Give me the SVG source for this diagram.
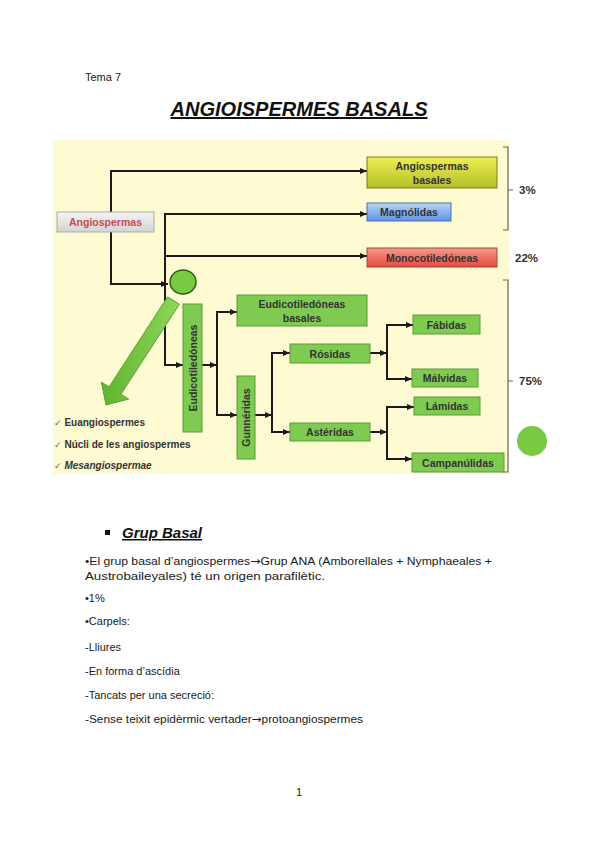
<svg xmlns="http://www.w3.org/2000/svg" width="599" height="848" viewBox="0 0 599 848">
<defs>
<linearGradient id="gGray" x1="0" y1="0" x2="0" y2="1"><stop offset="0" stop-color="#f4f4f4"/><stop offset="1" stop-color="#d4d4d4"/></linearGradient>
<linearGradient id="gYel" x1="0" y1="0" x2="0" y2="1"><stop offset="0" stop-color="#eeee50"/><stop offset="1" stop-color="#b4c02c"/></linearGradient>
<linearGradient id="gBlue" x1="0" y1="0" x2="0" y2="1"><stop offset="0" stop-color="#b8d4f8"/><stop offset="1" stop-color="#5f93e6"/></linearGradient>
<linearGradient id="gRed" x1="0" y1="0" x2="0" y2="1"><stop offset="0" stop-color="#f59a88"/><stop offset="1" stop-color="#e44a42"/></linearGradient>
<linearGradient id="gArrow" x1="0" y1="0" x2="1" y2="0"><stop offset="0" stop-color="#5fb42e"/><stop offset="1" stop-color="#8ed65a"/></linearGradient>
<marker id="ah" markerUnits="userSpaceOnUse" markerWidth="7" markerHeight="6" refX="7" refY="3" orient="auto"><path d="M0,0 L7,3 L0,6 z" fill="#1a1a1a"/></marker>
<style>
.ln{fill:none;stroke:#1a1a1a;stroke-width:2}
.br{fill:none;stroke:#666;stroke-width:1.2}
.gb{fill:#7fcb52;stroke:#5a9a3a;stroke-width:1}
.dt{font-family:"Liberation Sans",Arial,sans-serif;font-weight:bold;font-size:10.5px;fill:#333;text-anchor:middle;dominant-baseline:central}
.pc{font-family:"Liberation Sans",Arial,sans-serif;font-weight:bold;font-size:11.5px;fill:#333;dominant-baseline:central}
.lt{font-family:"Liberation Sans",Arial,sans-serif;font-weight:bold;font-size:10px;fill:#333}
.ck{font-family:"DejaVu Sans",sans-serif;font-weight:normal;fill:#666;font-size:9px}
.bd{font-family:"Liberation Sans",Arial,sans-serif;font-size:11px;fill:#1a1a1a}
.ar{font-family:"DejaVu Sans",sans-serif;font-size:11px}
</style>
</defs>
<rect width="599" height="848" fill="#fff"/>
<text class="bd" x="85" y="81" font-size="9">Tema 7</text>
<text x="299" y="116" font-family="Liberation Sans,Arial,sans-serif" font-weight="bold" font-style="italic" font-size="20" text-anchor="middle" text-decoration="underline" textLength="257" lengthAdjust="spacingAndGlyphs" fill="#111">ANGIOISPERMES BASALS</text>

<rect x="53" y="140" width="456" height="334" fill="#fefbd2"/>

<g id="connectors">
<path class="ln" d="M111,230 V171 H367" marker-end="url(#ah)"/>
<path class="ln" d="M111,230 V284 H168" marker-end="url(#ah)"/>
<path class="ln" d="M165,300 V214 H367" marker-end="url(#ah)"/>
<path class="ln" d="M165,256 H367" marker-end="url(#ah)"/>
<path class="ln" d="M165,290 V365 H183" marker-end="url(#ah)"/>
<path class="ln" d="M202,365 H217" marker-end="url(#ah)"/>
<path class="ln" d="M217,365 V312 H237" marker-end="url(#ah)"/>
<path class="ln" d="M217,365 V415 H237" marker-end="url(#ah)"/>
<path class="ln" d="M255,415 H272" marker-end="url(#ah)"/>
<path class="ln" d="M272,415 V353 H290" marker-end="url(#ah)"/>
<path class="ln" d="M272,415 V432 H290" marker-end="url(#ah)"/>
<path class="ln" d="M370,353 H387" marker-end="url(#ah)"/>
<path class="ln" d="M387,353 V325 H413" marker-end="url(#ah)"/>
<path class="ln" d="M387,353 V379 H412" marker-end="url(#ah)"/>
<path class="ln" d="M370,432 H387" marker-end="url(#ah)"/>
<path class="ln" d="M387,432 V407 H414" marker-end="url(#ah)"/>
<path class="ln" d="M387,432 V459 H412" marker-end="url(#ah)"/>
<path class="br" d="M503,147 H508 V230 H503 M508,190 H513"/>
<path class="br" d="M503,280 H508 V472 H503 M508,381 H513"/>
</g>

<g id="angiospermas"><rect x="57" y="212" width="97" height="20" fill="url(#gGray)" stroke="#aaa"/><text class="dt" x="105.5" y="222" style="fill:#cc4a50">Angiospermas</text></g>
<g id="basales"><rect x="367" y="157" width="130" height="31" fill="url(#gYel)" stroke="#7a7a20"/><text class="dt" x="432" y="166">Angiospermas</text><text class="dt" x="432" y="180">basales</text></g>
<g id="magnolidas"><rect x="367" y="203" width="84" height="18" fill="url(#gBlue)" stroke="#5070a0"/><text class="dt" x="409" y="212">Magnólidas</text></g>
<g id="monocot"><rect x="367" y="248" width="130" height="19" fill="url(#gRed)" stroke="#9a4a40"/><text class="dt" x="432" y="258">Monocotiledóneas</text></g>
<g id="circle"><ellipse cx="183" cy="282" rx="13" ry="12" fill="#7ac943" stroke="#2f5a1f" stroke-width="1.5"/></g>
<g id="arrow"><polygon points="179.4,304.2 120.9,394.3 128.6,399.1 106,405 101.4,382.1 109.1,386.9 167.6,296.8" fill="url(#gArrow)" stroke="#5aa030" stroke-width="1"/></g>
<g id="eudicot"><rect x="183" y="304" width="19" height="128" class="gb"/><text class="dt" transform="translate(192.5,368) rotate(-90)">Eudicotiledóneas</text></g>
<g id="eudicot-basales"><rect x="237" y="295" width="130" height="31" class="gb"/><text class="dt" x="302" y="304">Eudicotiledóneas</text><text class="dt" x="302" y="318">basales</text></g>
<g id="gunneridas"><rect x="237" y="376" width="18" height="83" class="gb"/><text class="dt" transform="translate(246,417.5) rotate(-90)">Gunnéridas</text></g>
<g id="rosidas"><rect x="290" y="344" width="80" height="19" class="gb"/><text class="dt" x="330" y="353.5">Rósidas</text></g>
<g id="asteridas"><rect x="290" y="423" width="80" height="18" class="gb"/><text class="dt" x="330" y="432">Astéridas</text></g>
<g id="fabidas"><rect x="413" y="315" width="67" height="19" class="gb"/><text class="dt" x="446.5" y="324.5">Fábidas</text></g>
<g id="malvidas"><rect x="412" y="369" width="66" height="18" class="gb"/><text class="dt" x="445" y="378">Málvidas</text></g>
<g id="lamidas"><rect x="414" y="397" width="66" height="18" class="gb"/><text class="dt" x="447" y="406">Lámidas</text></g>
<g id="campanulidas"><rect x="412" y="453" width="92" height="19" class="gb"/><text class="dt" x="458" y="462.5">Campanúlidas</text></g>
<g id="percent"><text class="pc" x="519" y="190">3%</text><text class="pc" x="515" y="258">22%</text><text class="pc" x="519" y="381">75%</text></g>
<g id="dot"><circle cx="532" cy="441" r="15" fill="#7ac943"/></g>
<g id="list">
<text class="lt" x="54" y="426"><tspan class="ck">✓ </tspan>Euangiospermes</text>
<text class="lt" x="54" y="448"><tspan class="ck">✓ </tspan>Núcli de les angiospermes</text>
<text class="lt" x="54" y="469"><tspan class="ck">✓ </tspan><tspan font-style="italic">Mesangiospermae</tspan></text>
</g>

<rect x="105" y="530" width="5" height="5" fill="#111"/>
<text x="122" y="538" font-family="Liberation Sans,Arial,sans-serif" font-weight="bold" font-style="italic" font-size="15" text-decoration="underline" textLength="80" lengthAdjust="spacingAndGlyphs" fill="#111">Grup Basal</text>
<text class="bd" x="85" y="565" textLength="407" lengthAdjust="spacingAndGlyphs">•El grup basal d’angiospermes<tspan class="ar">→</tspan>Grup ANA (Amborellales + Nymphaeales +</text>
<text class="bd" x="85" y="580" textLength="240" lengthAdjust="spacingAndGlyphs">Austrobaileyales) té un origen parafilètic.</text>
<text class="bd" x="85" y="602">•1%</text>
<text class="bd" x="85" y="625">•Carpels:</text>
<text class="bd" x="85" y="651">-Lliures</text>
<text class="bd" x="85" y="675">-En forma d’ascídia</text>
<text class="bd" x="85" y="699">-Tancats per una secreció:</text>
<text class="bd" x="85" y="723" textLength="278" lengthAdjust="spacingAndGlyphs">-Sense teixit epidèrmic vertader<tspan class="ar">→</tspan>protoangiospermes</text>
<text class="bd" x="299" y="796" text-anchor="middle" font-size="10">1</text>
</svg>
